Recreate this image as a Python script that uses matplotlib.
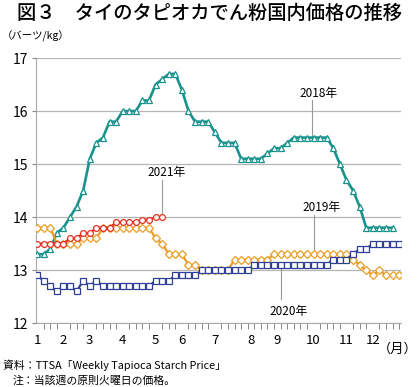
import matplotlib
matplotlib.use("Agg")
import matplotlib.pyplot as plt
import numpy as np

plt.rcParams["font.family"] = ["Noto Sans CJK JP", "DejaVu Sans"]

# weekly prices (baht/kg), one value per week from the start of January
y2018 = [13.3, 13.3, 13.4, 13.7, 13.8, 14.0, 14.2, 14.5, 15.1, 15.4,
         15.5, 15.8, 15.8, 16.0, 16.0, 16.0, 16.2, 16.2, 16.5, 16.6,
         16.7, 16.7, 16.4, 16.0, 15.8, 15.8, 15.8, 15.6, 15.4, 15.4,
         15.4, 15.1, 15.1, 15.1, 15.1, 15.2, 15.3, 15.3, 15.4, 15.5,
         15.5, 15.5, 15.5, 15.5, 15.5, 15.3, 15.0, 14.7, 14.5, 14.2,
         13.8, 13.8, 13.8, 13.8, 13.8]
y2019 = [13.8, 13.8, 13.8, 13.5, 13.5, 13.5, 13.5, 13.6, 13.6, 13.6,
         13.8, 13.8, 13.8, 13.8, 13.8, 13.8, 13.8, 13.8, 13.6, 13.5,
         13.3, 13.3, 13.3, 13.1, 13.1, 13.0, 13.0, 13.0, 13.0, 13.0,
         13.2, 13.2, 13.2, 13.2, 13.2, 13.2, 13.3, 13.3, 13.3, 13.3,
         13.3, 13.3, 13.3, 13.3, 13.3, 13.3, 13.3, 13.3, 13.2, 13.1,
         13.0, 12.9, 13.0, 12.9, 12.9, 12.9]
y2020 = [12.9, 12.8, 12.7, 12.6, 12.7, 12.7, 12.6, 12.8, 12.7, 12.8,
         12.7, 12.7, 12.7, 12.7, 12.7, 12.7, 12.7, 12.7, 12.8, 12.8,
         12.8, 12.9, 12.9, 12.9, 12.9, 13.0, 13.0, 13.0, 13.0, 13.0,
         13.0, 13.0, 13.0, 13.1, 13.1, 13.1, 13.1, 13.1, 13.1, 13.1,
         13.1, 13.1, 13.1, 13.1, 13.1, 13.2, 13.2, 13.2, 13.3, 13.4,
         13.4, 13.5, 13.5, 13.5, 13.5, 13.5]
y2021 = [13.5, 13.5, 13.5, 13.5, 13.5, 13.6, 13.6, 13.7, 13.7, 13.8,
         13.8, 13.8, 13.9, 13.9, 13.9, 13.9, 13.95, 13.95, 14.0, 14.0]

month_labels = ["1", "2", "3", "4", "5", "6", "7", "8", "9", "10", "11", "12"]
month_pos = [0, 4, 8, 13, 18, 22, 27, 32.5, 36.5, 42, 47, 51]

series = [
    (y2018, "#17928c", "^", 1.9),
    (y2019, "#eb9c24", "D", 1.6),
    (y2020, "#2f3f98", "s", 1.6),
    (y2021, "#e43221", "o", 1.6),
]

fig = plt.figure(figsize=(4.2, 3.87), dpi=100)
ax = fig.add_axes([0.086, 0.165, 0.869, 0.685])

for vals, color, marker, lw in series:
    x = np.arange(len(vals))
    ms = 4.2 if marker != "D" else 3.6
    ax.plot(x, vals, color=color, lw=lw, marker=marker, ms=ms,
            mfc="white", mec=color, mew=0.9, zorder=3)

ax.set_ylim(12, 17)
ax.set_xlim(-0.15, 55.3)
ax.set_yticks([12, 13, 14, 15, 16, 17])
ax.set_xticks(month_pos)
ax.set_xticklabels(month_labels)
ax.set_xticks(np.arange(0, 56), minor=True)
ax.tick_params(axis="x", which="major", length=0, pad=8, labelsize=9.5)
ax.tick_params(axis="x", which="minor", length=4, color="#888888", width=0.7)
ax.tick_params(axis="y", length=3, color="#888888", labelsize=10, pad=3)

ax.grid(axis="y", color="#b5b5b5", lw=0.9)
ax.set_axisbelow(True)
for side in ["top", "right"]:
    ax.spines[side].set_visible(False)
ax.spines["left"].set_color("#aaaaaa")
ax.spines["bottom"].set_color("#aaaaaa")

# series labels with leader lines
notes = [
    ("2018年", 41.8, 15.5, 16.2, 42.8, 16.34),
    ("2021年", 19.0, 14.0, 14.7, 19.6, 14.84),
    ("2019年", 42.1, 13.3, 14.04, 43.2, 14.18),
    ("2020年", 37.1, 13.1, 12.45, 38.2, 12.22),
]
for text, lx, y0, y1, tx, ty in notes:
    ax.plot([lx, lx], [y0, y1], color="#999999", lw=0.8, zorder=2)
    ax.text(tx, ty, text, ha="center", va="center", fontsize=8.5)

ax.text(0.99, -0.1, "（月）", transform=ax.transAxes, ha="center", va="center", fontsize=9.5)

fig.text(0.04, 0.966, "図３　タイのタピオカでん粉国内価格の推移", fontsize=13.9,
         ha="left", va="center", weight="medium")
fig.text(0.005, 0.905, "（バーツ/kg）", fontsize=7.5, ha="left", va="center")
fig.text(0.007, 0.055, "資料：TTSA「Weekly Tapioca Starch Price」", fontsize=7.8,
         ha="left", va="center")
fig.text(0.03, 0.017, "注：当該週の原則火曜日の価格。", fontsize=7.8,
         ha="left", va="center")

fig.savefig("out.png", dpi=100)
